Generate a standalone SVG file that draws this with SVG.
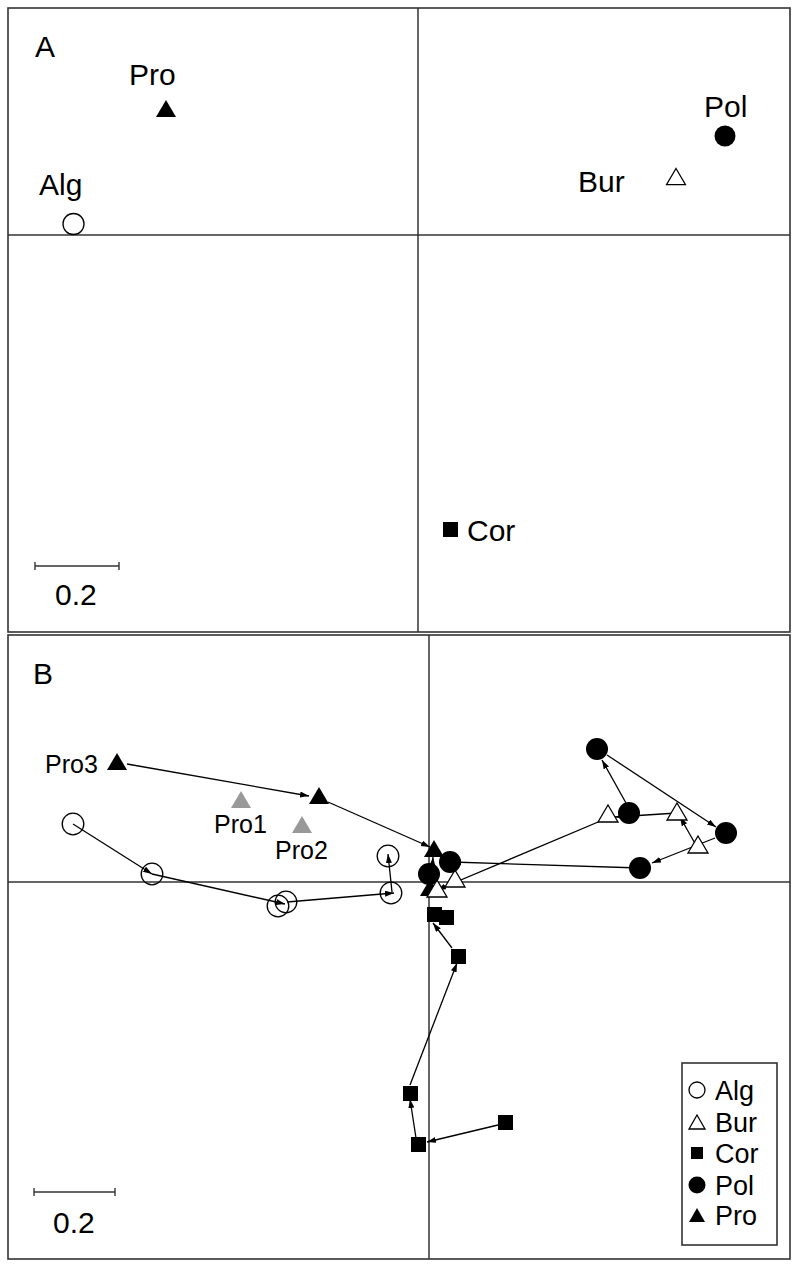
<svg xmlns="http://www.w3.org/2000/svg" width="799" height="1268" viewBox="0 0 799 1268">
<style>
.frame{fill:none;stroke:#333;stroke-width:1.6}
.axis{stroke:#333;stroke-width:1.5}
.conn{stroke:#000;stroke-width:1.3;fill:none;marker-end:url(#ah)}
.t{font-family:"Liberation Sans",Arial,sans-serif;fill:#000}
.big{font-size:30px}
.lab{font-size:25px}
.leg{font-size:27px}
.oc{fill:none;stroke:#000;stroke-width:1.3}
.fc{fill:#000}
.ot{fill:#fff;stroke:#000;stroke-width:1.3}
.ft{fill:#000}
.gt{fill:#999}
.sq{fill:#000}
.bar{stroke:#333;stroke-width:1.4}
</style>
<defs>
<marker id="ah" markerUnits="userSpaceOnUse" markerWidth="10" markerHeight="8" refX="9" refY="3" orient="auto">
<path d="M0,0 L9,3 L0,6 z" fill="#000"/>
</marker>
<polygon id="tri" points="0,-10 10,7 -10,7"/>
</defs>
<rect width="799" height="1268" fill="#fff"/>

<g id="panelA">
<rect class="frame" x="8" y="8" width="782" height="624"/>
<line class="axis" x1="418" y1="8" x2="418" y2="632"/>
<line class="axis" x1="8" y1="235" x2="790" y2="235"/>
<text class="t big" x="35" y="57">A</text>
<g id="A-bar">
<line class="bar" x1="35" y1="566" x2="119" y2="566"/>
<line class="bar" x1="35" y1="562" x2="35" y2="570"/>
<line class="bar" x1="119" y1="562" x2="119" y2="570"/>
<text class="t big" x="55" y="605">0.2</text>
</g>
<g id="A-Pro"><use href="#tri" x="166" y="110" class="ft"/><text class="t big" x="129" y="85">Pro</text></g>
<g id="A-Alg"><circle class="oc" cx="73.5" cy="224" r="10.5"/><text class="t big" x="39" y="195">Alg</text></g>
<g id="A-Pol"><circle class="fc" cx="725" cy="136" r="10.5"/><text class="t big" x="704" y="117">Pol</text></g>
<g id="A-Bur"><use href="#tri" x="676" y="178" class="ot" transform="translate(676 178) scale(0.95) translate(-676 -178)"/><text class="t big" x="578" y="192">Bur</text></g>
<g id="A-Cor"><rect class="sq" x="443" y="522" width="15" height="15"/><text class="t big" x="467" y="541">Cor</text></g>
</g>

<g id="panelB">
<rect class="frame" x="8" y="635" width="782" height="624"/>
<line class="axis" x1="429" y1="635" x2="429" y2="1259"/>
<line class="axis" x1="8" y1="882" x2="790" y2="882"/>
<text class="t big" x="33" y="684">B</text>
<g id="B-bar">
<line class="bar" x1="34" y1="1192" x2="115" y2="1192"/>
<line class="bar" x1="34" y1="1188" x2="34" y2="1196"/>
<line class="bar" x1="115" y1="1188" x2="115" y2="1196"/>
<text class="t big" x="53" y="1233">0.2</text>
</g>
</g>

<g id="connectors">
<line class="conn" x1="127" y1="764" x2="309" y2="796"/>
<line class="conn" x1="328" y1="802" x2="430" y2="847"/>
<line class="conn" x1="432" y1="873" x2="433" y2="857"/>
<line class="conn" x1="73" y1="824" x2="152" y2="874"/>
<line class="conn" x1="152" y1="874" x2="285" y2="904"/>
<line class="conn" x1="287" y1="902" x2="394" y2="893"/>
<line class="conn" x1="392" y1="892" x2="388" y2="854"/>
<line class="conn" x1="626" y1="803" x2="602" y2="760"/>
<line class="conn" x1="607" y1="755" x2="716" y2="827"/>
<line class="conn" x1="715" y1="838" x2="652" y2="863"/>
<line class="conn" x1="640" y1="868" x2="452" y2="862"/>
<line class="conn" x1="697" y1="847" x2="680" y2="817"/>
<line class="conn" x1="677" y1="813" x2="615" y2="817"/>
<line class="conn" x1="610" y1="817" x2="437" y2="890"/>
<line class="conn" x1="498" y1="1125" x2="427" y2="1142"/>
<line class="conn" x1="416" y1="1138" x2="410" y2="1099"/>
<line class="conn" x1="410" y1="1085" x2="457" y2="963"/>
<line class="conn" x1="452" y1="948" x2="433" y2="923"/>
</g>

<g id="B-Pro">
<use href="#tri" x="117" y="763" class="ft"/>
<use href="#tri" x="319" y="797" class="ft"/>
<use href="#tri" x="434" y="850" class="ft"/>
<use href="#tri" x="430" y="889" class="ft"/>
<text class="t lab" x="45" y="773">Pro3</text>
</g>
<g id="B-Pro1"><use href="#tri" x="241" y="801" class="gt"/><text class="t lab" x="214" y="833">Pro1</text></g>
<g id="B-Pro2"><use href="#tri" x="302" y="826" class="gt"/><text class="t lab" x="275" y="859">Pro2</text></g>
<g id="B-Alg">
<circle class="oc" cx="73" cy="824" r="10.8"/>
<circle class="oc" cx="152" cy="874" r="10.8"/>
<circle class="oc" cx="278" cy="906" r="10.8"/>
<circle class="oc" cx="286" cy="902" r="10.8"/>
<circle class="oc" cx="391" cy="893" r="10.8"/>
<circle class="oc" cx="388" cy="856" r="10.8"/>
</g>
<g id="B-Bur">
<use href="#tri" x="608" y="815" class="ot"/>
<use href="#tri" x="677" y="813" class="ot"/>
<use href="#tri" x="698" y="846" class="ot"/>
<use href="#tri" x="455" y="880" class="ot"/>
<use href="#tri" x="437" y="890" class="ot"/>
</g>
<g id="B-Pol">
<circle class="fc" cx="597" cy="749" r="11"/>
<circle class="fc" cx="629" cy="813" r="11"/>
<circle class="fc" cx="726" cy="833" r="11"/>
<circle class="fc" cx="640" cy="868" r="11"/>
<circle class="fc" cx="450" cy="862" r="11"/>
<circle class="fc" cx="429" cy="874" r="11"/>
</g>
<g id="B-Cor">
<rect class="sq" x="427" y="907" width="15" height="15"/>
<rect class="sq" x="439" y="910" width="15" height="15"/>
<rect class="sq" x="451" y="949" width="15" height="15"/>
<rect class="sq" x="403" y="1086" width="15" height="15"/>
<rect class="sq" x="411" y="1137" width="15" height="15"/>
<rect class="sq" x="498" y="1115" width="15" height="15"/>
</g>

<g id="legend">
<rect class="frame" x="682" y="1063" width="95" height="182"/>
<circle class="oc" cx="697" cy="1090" r="8"/>
<polygon class="ot" points="697,1115 705,1129 689,1129"/>
<rect class="sq" x="691" y="1147" width="12" height="12"/>
<circle class="fc" cx="697" cy="1185" r="8.5"/>
<polygon class="ft" points="697,1208 705,1222 689,1222"/>
<text class="t leg" x="715" y="1100">Alg</text>
<text class="t leg" x="715" y="1132">Bur</text>
<text class="t leg" x="715" y="1163">Cor</text>
<text class="t leg" x="715" y="1195">Pol</text>
<text class="t leg" x="715" y="1225">Pro</text>
</g>
</svg>
